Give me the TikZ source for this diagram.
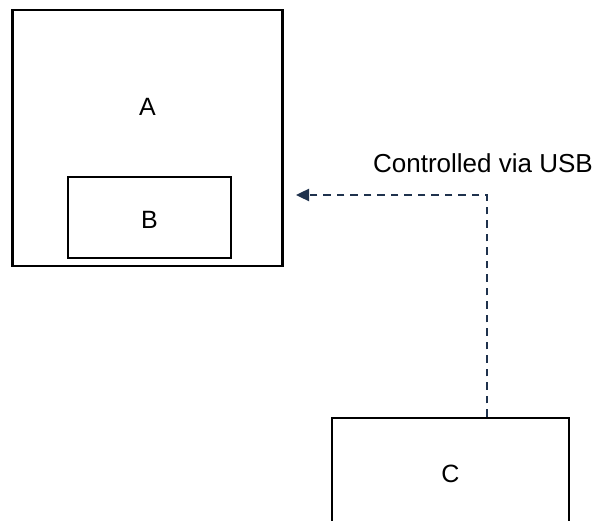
\documentclass[tikz,border=0pt]{standalone}
\usepackage{fontspec}
\setmainfont{Liberation Sans}
\usetikzlibrary{arrows.meta,calc}
\definecolor{linkcol}{HTML}{1F324D}
\tikzset{
  box/.style={draw=black, line width=2.2pt, fill=white, inner sep=0pt},
  boxtext/.style={inner sep=0pt, font=\fontsize{25}{30}\selectfont},
  labeltext/.style={inner sep=0pt, font=\fontsize{26}{31}\selectfont},
  usblink/.style={draw=linkcol, line width=2.4pt, dash pattern=on 7.5pt off 6pt,
    -{Triangle[length=13pt,width=12pt]}}
}
\begin{document}
\begin{tikzpicture}[x=1pt,y=-1pt]
\clip (0,0) rectangle (596,521);
\fill[white] (0,0) rectangle (596,521);
% box A
\node[box, minimum width=270pt, minimum height=256pt] (A) at (147.5,138) {};
\node[boxtext] (Alabel) at (147.5,106.5) {A};
% box B
\node[box, minimum width=163pt, minimum height=81pt] (B) at (149.5,217.5) {};
\node[boxtext] (Blabel) at (149.5,220) {B};
% box C
\node[box, minimum width=237pt, minimum height=112pt] (C) at (450.5,474) {};
\node[boxtext] (Clabel) at (450.5,474) {C};
% connector
\coordinate (turn) at (487,195);
\coordinate (tip) at (296,195);
\draw[usblink] (turn |- C.north) -- (turn) -- (tip);
\node[labeltext] (usb) at (483,163.6) {Controlled via USB};
\end{tikzpicture}
\end{document}
